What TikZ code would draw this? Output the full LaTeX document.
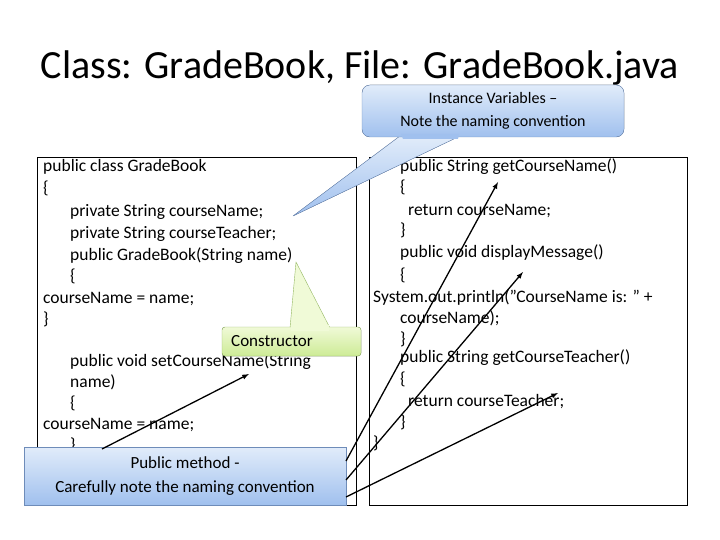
\documentclass[tikz,border=0pt]{standalone}
\usepackage{fontspec}
\setmainfont{Carlito}
\usepackage{tikz}
\usetikzlibrary{positioning}
\definecolor{calltop}{RGB}{225,236,250}
\definecolor{callbot}{RGB}{160,192,238}
\definecolor{callline}{RGB}{110,140,185}
\definecolor{grntop}{RGB}{240,250,215}
\definecolor{grnbot}{RGB}{205,235,150}
\definecolor{grnline}{RGB}{150,185,100}
\tikzset{
  code/.style={anchor=base west,inner sep=0pt,font=\fontsize{17.5}{20}\selectfont},
  arr/.style={-latex,line width=1.3pt},
}
\begin{document}
\begin{tikzpicture}[x=1pt,y=-1pt]
\useasboundingbox (0,0) rectangle (720,540);
\node (title) at (360,68) {\fontsize{40}{44}\selectfont Class: GradeBook, File: GradeBook.java};
\draw (37,157) rectangle (356,505);
\draw (369,157) rectangle (687,505);

% left box
\node[code] (l1) at (43,172) {public class GradeBook};
\node[code] (l2) at (43,194) {\{};
\node[code] (l3) at (70,216) {private String courseName;};
\node[code] (l4) at (70,238) {private String courseTeacher;};
\node[code] (l5) at (70,260) {public GradeBook(String name)};
\node[code] (l6) at (70,281) {\{};
\node[code] (l7) at (43,303) {courseName = name;};
\node[code] (l8) at (43,324) {\}};
\node[code] (l9) at (70,366) {public void setCourseName(String};
\node[code] (l10) at (70,387) {name)};
\node[code] (l11) at (70,408) {\{};
\node[code] (l12) at (43,429) {courseName = name;};
\node[code] (l13) at (70,450) {\}};

% right box
\node[code] (r1) at (400,172) {public String getCourseName()};
\node[code] (r2) at (400,193) {\{};
\node[code] (r3) at (408,215) {return courseName;};
\node[code] (r4) at (400,236) {\}};
\node[code] (r5) at (400,258) {public void displayMessage()};
\node[code] (r6) at (400,280) {\{};
\node[code] (r7) at (373,302) {System.out.println("CourseName is: " +};
\node[code] (r8) at (400,323) {courseName);};
\node[code] (r9) at (400,344) {\}};
\node[code] (r10) at (400,362) {public String getCourseTeacher()};
\node[code] (r11) at (400,384) {\{};
\node[code] (r12) at (408,406) {return courseTeacher;};
\node[code] (r13) at (400,427) {\}};
\node[code] (r14) at (373,448) {\}};

% instance variables callout
\coordinate (ivtip) at (293,216);
\filldraw[draw=callline,top color=calltop,bottom color=callbot] (400,136) -- (ivtip) -- (460,136) -- cycle;
\filldraw[draw=callline,top color=calltop,bottom color=callbot,rounded corners=8pt] (362,85) rectangle (624,137);
\fill[callbot] (401,134) -- (459,134) -- (458,139) -- (403,139) -- cycle;
\node[align=center,font=\fontsize{16}{23}\selectfont] (iv) at (493,111) {Instance Variables --\\Note the naming convention};

% constructor callout
\coordinate (cttip) at (296,262);
\filldraw[draw=grnline,fill=grntop] (290,328) -- (cttip) -- (330,328) -- cycle;
\filldraw[draw=grnline,top color=grntop,bottom color=grnbot,rounded corners=3pt] (222,327) rectangle (361,356);
\fill[grntop] (291,325) -- (329,325) -- (329,331) -- (291,331) -- cycle;
\node[font=\fontsize{17}{20}\selectfont] (ct) at (272,341) {Constructor};

% public method box
\node[draw=callline,top color=calltop,bottom color=callbot,minimum width=322pt,minimum height=58pt,inner sep=0pt,align=center,font=\fontsize{17}{24}\selectfont] (pm) at (185,476) {Public method -\\Carefully note the naming convention};
\coordinate (pmt0) at (102,449);
\coordinate (pmt1) at (346,461);
\coordinate (pmt2) at (346,480);
\coordinate (pmt3) at (346,497);
\coordinate (h0) at (249,374);
\coordinate (h1) at (498,182);
\coordinate (h2) at (523,272);
\coordinate (h3) at (558,393);
\draw[arr] (pmt0) -- (h0);
\draw[arr] (pmt1) -- (h1);
\draw[arr] (pmt2) -- (h2);
\draw[arr] (pmt3) -- (h3);
\end{tikzpicture}
\end{document}
